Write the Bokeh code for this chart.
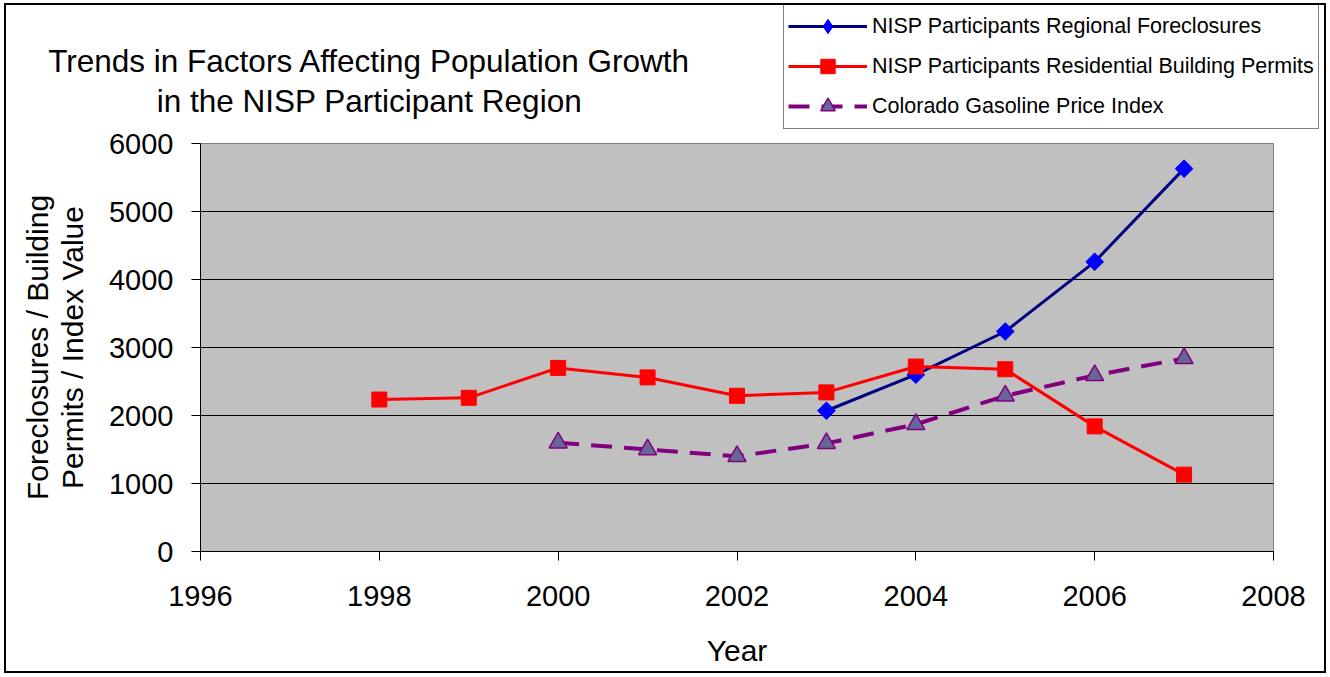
import math
from bokeh.plotting import figure
from bokeh.layouts import column
from bokeh.models import Legend, LegendItem, Label, FixedTicker, Range1d
from bokeh.embed import file_html
from bokeh.resources import INLINE

# ---- data ----
fc_years = [2003, 2004, 2005, 2006, 2007]
foreclosures = [2070, 2600, 3235, 4260, 5630]

bp_years = [1998, 1999, 2000, 2001, 2002, 2003, 2004, 2005, 2006, 2007]
permits = [2235, 2260, 2700, 2560, 2290, 2340, 2720, 2680, 1840, 1130]

gas_years = [2000, 2001, 2002, 2003, 2004, 2005, 2006, 2007]
gas_index = [1600, 1500, 1400, 1590, 1870, 2290, 2590, 2840]

x_ticks = [1996, 1998, 2000, 2002, 2004, 2006, 2008]
y_ticks = [0, 1000, 2000, 3000, 4000, 5000, 6000]

title_lines = ["Trends in Factors Affecting Population Growth",
               "in the NISP Participant Region"]
legend_labels = ["NISP Participants Regional Foreclosures",
                 "NISP Participants Residential Building Permits",
                 "Colorado Gasoline Price Index"]

FONT = "Liberation Sans"
W = 1318
TOP_H = 124
MAIN_H = 666 - TOP_H

# styles per series
S1 = dict(line=dict(line_color="#000080", line_width=3),
          mark=dict(marker="square", angle=math.pi / 4, size=12.5,
                    fill_color="#0000FF", line_color="#0000FF"),
          legend_mark=dict(marker="diamond", fill_color="#0000FF",
                           line_color="#0000FF"))
S2 = dict(line=dict(line_color="#FF0000", line_width=3),
          mark=dict(marker="square", size=15, fill_color="#FF0000",
                    line_color="#FF0000"))
S3 = dict(line=dict(line_color="#800080", line_width=4, line_dash="21 12"),
          mark=dict(marker="triangle", size=18, fill_color="#666699",
                    line_color="#800080", line_width=1.5))
series = [(fc_years, foreclosures, S1), (bp_years, permits, S2),
          (gas_years, gas_index, S3)]

# ---------------- main chart ----------------
p = figure(width=W, height=MAIN_H, output_backend="svg", toolbar_location=None,
           x_range=Range1d(1996, 2008), y_range=Range1d(0, 6000),
           min_border_left=194, min_border_right=51,
           min_border_top=143 - 5 - TOP_H,
           min_border_bottom=MAIN_H - (551 - 5 - TOP_H))
p.frame_align = False
p.background_fill_color = "#C0C0C0"
p.border_fill_color = "white"
p.outline_line_color = "#808080"
p.xgrid.visible = False
p.ygrid.grid_line_color = "black"
p.ygrid.grid_line_width = 1

for ax in (p.xaxis[0], p.yaxis[0]):
    ax.axis_line_color = "black"
    ax.major_tick_line_color = "black"
    ax.major_tick_out = 9
    ax.major_tick_in = 0
    ax.minor_tick_line_color = None
    ax.major_label_text_font = FONT
    ax.major_label_text_font_size = "29px"
    ax.major_label_text_color = "black"
    ax.axis_label_text_font = FONT
    ax.axis_label_text_font_size = "30px"
    ax.axis_label_text_font_style = "normal"
    ax.axis_label_text_color = "black"

p.xaxis.ticker = FixedTicker(ticks=x_ticks)
p.yaxis.ticker = FixedTicker(ticks=y_ticks)
p.xaxis.major_label_standoff = 25
p.yaxis.major_label_standoff = 18
p.xaxis.axis_label = "Year"
p.xaxis.axis_label_standoff = 25
p.yaxis.axis_label = "Foreclosures / Building\nPermits / Index Value"
p.yaxis.axis_label_standoff = 17
p.yaxis.axis_label_text_line_height = 1.05

for xs, ys, st in series:
    p.line(xs, ys, **st["line"])
    p.scatter(xs, ys, **st["mark"])

# ---------------- header: title + legend ----------------
h = figure(width=W, height=TOP_H, output_backend="svg", toolbar_location=None,
           x_range=Range1d(0, 1), y_range=Range1d(0, 1),
           x_axis_type=None, y_axis_type=None,
           min_border_left=0, min_border_right=0,
           min_border_top=0, min_border_bottom=0)
h.frame_align = False
h.outline_line_color = None
h.xgrid.visible = False
h.ygrid.visible = False
h.background_fill_color = "white"
h.border_fill_color = "white"

# legend entries: same series drawn in the header, outside its visible range
items = []
for lab, (xs, ys, st) in zip(legend_labels, series):
    lr = h.line(xs, ys, **st["line"])
    mr = h.scatter(xs, ys, **st.get("legend_mark", st["mark"]))
    items.append(LegendItem(label=lab, renderers=[lr, mr]))

legend = Legend(items=items, location=(777, 0))
legend.label_text_font = FONT
legend.label_text_font_size = "21.5px"
legend.label_text_color = "black"
legend.glyph_width = 79
legend.glyph_height = 36
legend.label_height = 20
legend.spacing = 4
legend.padding = 4
legend.margin = 0
legend.label_standoff = 5
legend.border_line_color = "black"
legend.border_line_width = 1
legend.background_fill_color = "white"
legend.background_fill_alpha = 1
h.add_layout(legend, "center")

for txt, yb in zip(title_lines, (TOP_H + 5 - 60, TOP_H + 5 - 100)):
    h.add_layout(Label(x=363, y=yb, x_units="screen", y_units="screen", text=txt,
                       text_font=FONT, text_font_size="31.5px", text_align="center",
                       text_baseline="alphabetic", text_color="black"))

layout = column(h, p, spacing=0)
layout.styles = {"margin-left": "6px", "margin-top": "5px",
                 "outline": "2px solid black", "outline-offset": "0px"}

open("out.html", "w").write(file_html(layout, INLINE))
